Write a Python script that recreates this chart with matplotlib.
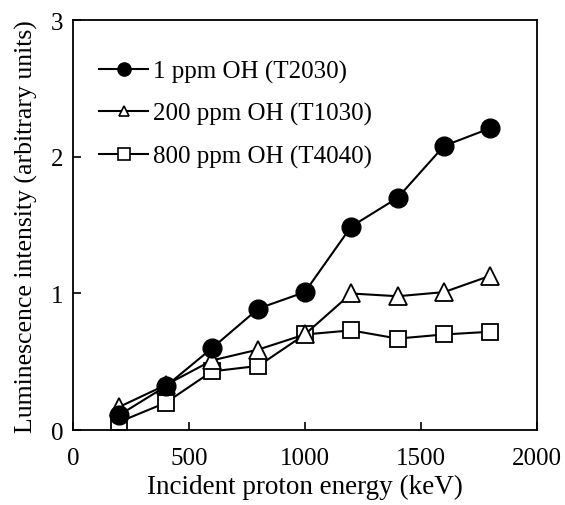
import matplotlib
matplotlib.use("Agg")
import matplotlib.pyplot as plt
from matplotlib.lines import Line2D

plt.rcParams['font.family'] = ['Liberation Serif', 'DejaVu Serif']

# incident proton energy (keV)
energy = [200, 400, 600, 800, 1000, 1200, 1400, 1600, 1800]

# luminescence intensity
oh_1ppm = [0.11, 0.32, 0.60, 0.89, 1.01, 1.49, 1.70, 2.08, 2.21]
oh_200ppm = [0.17, 0.33, 0.51, 0.59, 0.70, 1.00, 0.98, 1.01, 1.13]
oh_800ppm = [0.06, 0.20, 0.43, 0.47, 0.70, 0.73, 0.67, 0.70, 0.72]

labels = ["1 ppm OH (T2030)", "200 ppm OH (T1030)", "800 ppm OH (T4040)"]

fig = plt.figure(figsize=(5.65, 5.06), dpi=100)
ax = fig.add_axes([0.129, 0.148, 0.821, 0.810])

ax.plot(energy, oh_800ppm, color='black', lw=1.5, marker='s', ms=12,
        mfc='white', mec='black', mew=1.3, zorder=2)
ax.plot(energy, oh_200ppm, color='black', lw=1.5, marker='^', ms=13,
        mfc='white', mec='black', mew=1.3, zorder=3)
ax.plot(energy, oh_1ppm, color='black', lw=1.5, marker='o', ms=13.5,
        mfc='black', mec='black', zorder=4)

ax.set_xlim(0, 2000)
ax.set_ylim(0, 3)
ax.set_xticks([0, 500, 1000, 1500, 2000])
ax.set_yticks([0, 1, 2, 3])
ax.tick_params(direction='in', length=6, width=1.2, labelsize=18)
ax.tick_params(axis='x', pad=12)
ax.tick_params(axis='y', pad=7)
for s in ax.spines.values():
    s.set_linewidth(1.3)

ax.set_xlabel("Incident proton energy (keV)", fontsize=19.5, labelpad=4)
ax.set_ylabel("Luminescence intensity (arbitrary units)", fontsize=18.5, labelpad=9)

# legend markers are drawn smaller than the data markers
handles = [
    Line2D([], [], color='black', lw=1.5, marker='o', ms=9.5, mfc='black'),
    Line2D([], [], color='black', lw=1.5, marker='^', ms=7.5, mfc='white', mew=1.2),
    Line2D([], [], color='black', lw=1.5, marker='s', ms=8, mfc='white', mew=1.2),
]
ax.legend(handles, labels, loc='upper left', frameon=False, fontsize=18,
          handlelength=1.95, handletextpad=0.2, labelspacing=0.77,
          borderpad=0, borderaxespad=0, bbox_to_anchor=(0.057, 0.903))

fig.savefig("out.png", dpi=100)
